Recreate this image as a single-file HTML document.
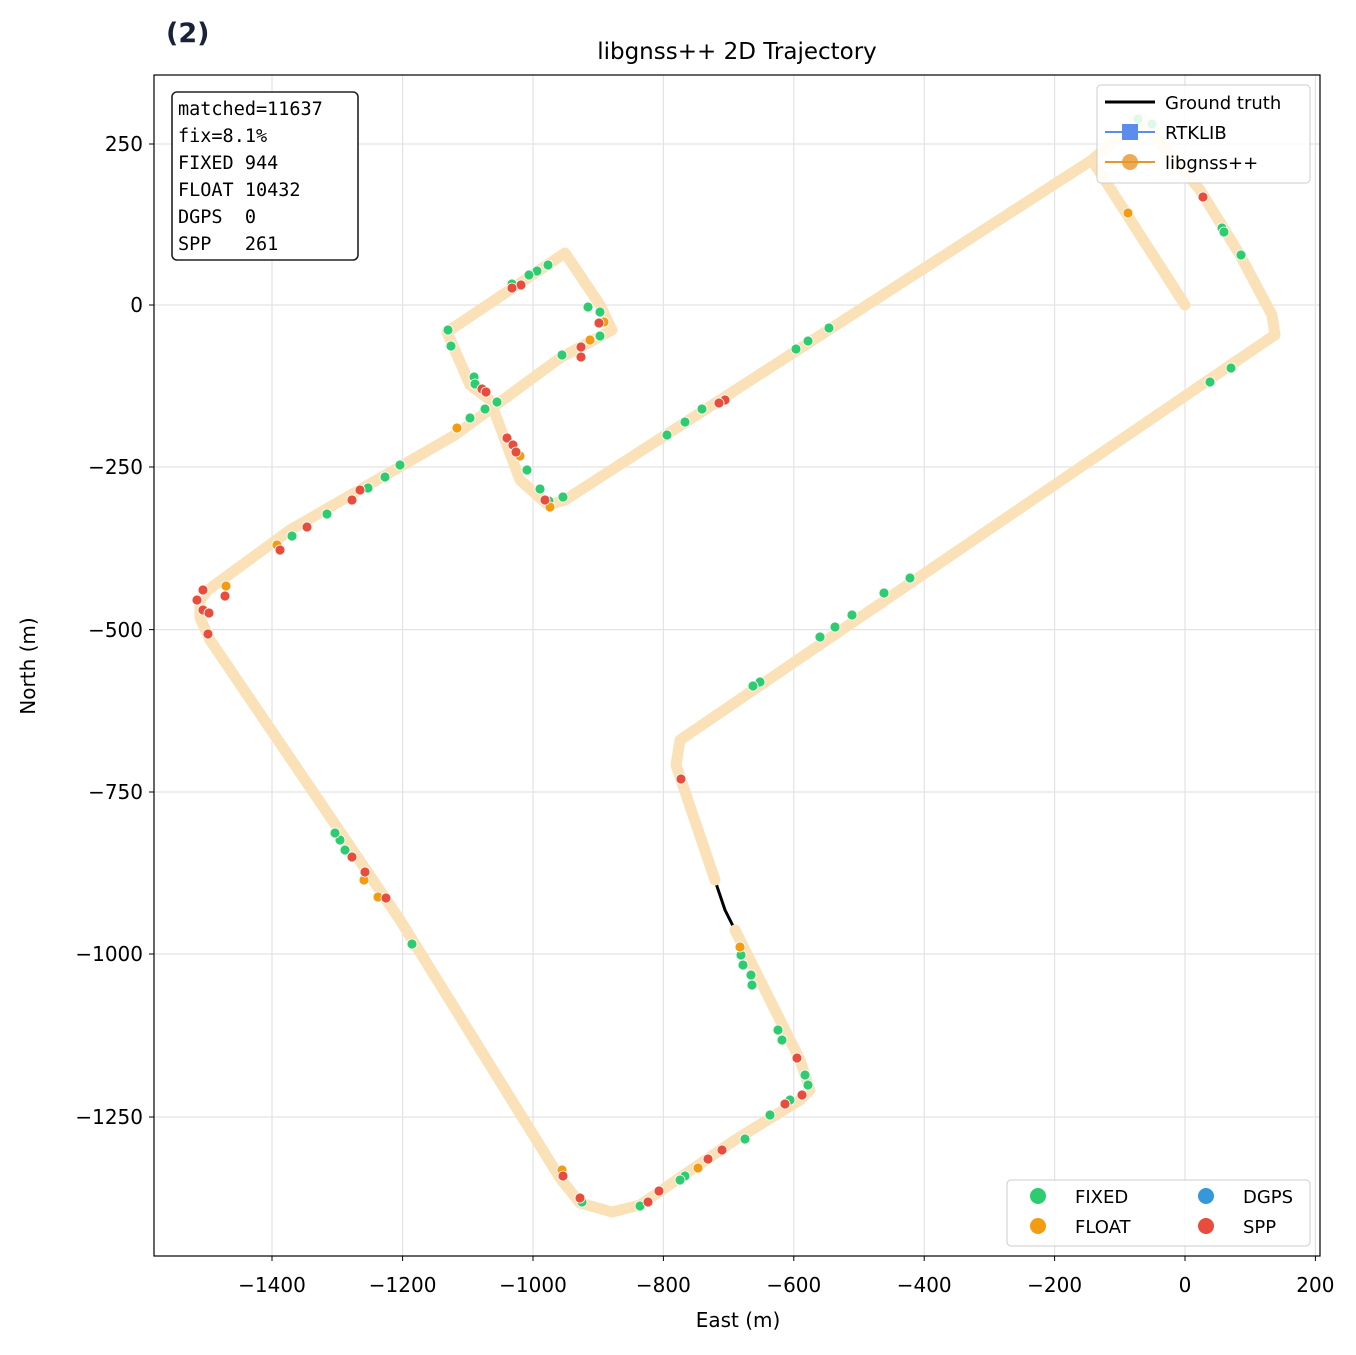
<!DOCTYPE html>
<html><head><meta charset="utf-8"><style>
body{margin:0;background:#fff}
</style></head><body>
<svg width="1356" height="1350" xmlns="http://www.w3.org/2000/svg" font-family="'DejaVu Sans','Liberation Sans',sans-serif">
<rect width="1356" height="1350" fill="#fff"/>
<g stroke="#e3e3e3" stroke-width="1.2">
<line x1="272" y1="75" x2="272" y2="1256"/><line x1="402.6" y1="75" x2="402.6" y2="1256"/><line x1="533" y1="75" x2="533" y2="1256"/><line x1="663.4" y1="75" x2="663.4" y2="1256"/><line x1="793.8" y1="75" x2="793.8" y2="1256"/><line x1="924.2" y1="75" x2="924.2" y2="1256"/><line x1="1054.6" y1="75" x2="1054.6" y2="1256"/><line x1="1185" y1="75" x2="1185" y2="1256"/><line x1="1315.4" y1="75" x2="1315.4" y2="1256"/>
<line x1="154" y1="144" x2="1320" y2="144"/><line x1="154" y1="305" x2="1320" y2="305"/><line x1="154" y1="467" x2="1320" y2="467"/><line x1="154" y1="629.6" x2="1320" y2="629.6"/><line x1="154" y1="792" x2="1320" y2="792"/><line x1="154" y1="954" x2="1320" y2="954"/><line x1="154" y1="1117" x2="1320" y2="1117"/>
</g>
<g fill="none" stroke-linejoin="round" stroke-linecap="round">
<polyline stroke="#000" stroke-width="3" points="1185,305 1092,160 1140,118 1200,190 1240,255 1272,315 1275,335 1260,345 680,740 676,765 725,910 800,1060 810,1090 800,1100 735,1140 640,1205 612,1212 580,1203 560,1178 400,920 210,640 200,618 200,600 208,590 290,530 455,435 560,358 612,330 600,305 565,253 447,332 470,385 490,400 520,480 548,505 565,500 1092,160"/>
<polyline stroke="#fbe1b8" stroke-width="11" points="1185,305 1092,160 1140,118 1200,190 1240,255 1272,315 1275,335 1260,345 680,740 676,765 715,880"/>
<polyline stroke="#fbe1b8" stroke-width="11" points="735,930 800,1060 810,1090 800,1100 735,1140 640,1205 612,1212 580,1203 560,1178 400,920 210,640 200,618 200,600 208,590 290,530 455,435 560,358 612,330 600,305 565,253 447,332 470,385 490,400 520,480 548,505 565,500 1092,160"/>
</g>
<g stroke="#fff" stroke-width="0.8">
<g fill="#2ecc71">
<circle cx="1138" cy="119" r="5"/><circle cx="1152" cy="124" r="5"/><circle cx="1222" cy="228" r="5"/><circle cx="1224" cy="232" r="5"/><circle cx="1241" cy="255" r="5"/><circle cx="1231" cy="368" r="5"/><circle cx="1210" cy="382" r="5"/><circle cx="910" cy="578" r="5"/><circle cx="884" cy="593" r="5"/><circle cx="852" cy="615" r="5"/><circle cx="835" cy="627" r="5"/><circle cx="820" cy="637" r="5"/><circle cx="760" cy="682" r="5"/><circle cx="753" cy="686" r="5"/><circle cx="741" cy="955" r="5"/><circle cx="743" cy="965" r="5"/><circle cx="751" cy="975" r="5"/><circle cx="752" cy="985" r="5"/><circle cx="778" cy="1030" r="5"/><circle cx="782" cy="1040" r="5"/><circle cx="805" cy="1075" r="5"/><circle cx="808" cy="1085" r="5"/><circle cx="790" cy="1100" r="5"/><circle cx="770" cy="1115" r="5"/><circle cx="745" cy="1139" r="5"/><circle cx="685" cy="1176" r="5"/><circle cx="680" cy="1180" r="5"/><circle cx="640" cy="1206" r="5"/><circle cx="582" cy="1202" r="5"/><circle cx="412" cy="944" r="5"/><circle cx="345" cy="850" r="5"/><circle cx="340" cy="840" r="5"/><circle cx="335" cy="833" r="5"/><circle cx="292" cy="536" r="5"/><circle cx="327" cy="514" r="5"/><circle cx="368" cy="488" r="5"/><circle cx="385" cy="477" r="5"/><circle cx="400" cy="465" r="5"/><circle cx="470" cy="418" r="5"/><circle cx="485" cy="409" r="5"/><circle cx="497" cy="402" r="5"/><circle cx="448" cy="330" r="5"/><circle cx="451" cy="346" r="5"/><circle cx="474" cy="377" r="5"/><circle cx="475" cy="384" r="5"/><circle cx="527" cy="470" r="5"/><circle cx="540" cy="489" r="5"/><circle cx="549" cy="501" r="5"/><circle cx="563" cy="497" r="5"/><circle cx="562" cy="355" r="5"/><circle cx="600" cy="336" r="5"/><circle cx="600" cy="312" r="5"/><circle cx="588" cy="307" r="5"/><circle cx="512" cy="284" r="5"/><circle cx="537" cy="271" r="5"/><circle cx="548" cy="265" r="5"/><circle cx="529" cy="275" r="5"/><circle cx="667" cy="435" r="5"/><circle cx="685" cy="422" r="5"/><circle cx="702" cy="409" r="5"/><circle cx="796" cy="349" r="5"/><circle cx="808" cy="341" r="5"/><circle cx="829" cy="328" r="5"/>
</g>
<g fill="#f39c12">
<circle cx="1128" cy="213" r="5"/><circle cx="590" cy="340" r="5"/><circle cx="604" cy="322" r="5"/><circle cx="457" cy="428" r="5"/><circle cx="520" cy="456" r="5"/><circle cx="550" cy="507" r="5"/><circle cx="277" cy="545" r="5"/><circle cx="226" cy="586" r="5"/><circle cx="364" cy="880" r="5"/><circle cx="378" cy="897" r="5"/><circle cx="740" cy="947" r="5"/><circle cx="562" cy="1170" r="5"/><circle cx="698" cy="1168" r="5"/>
</g>
<g fill="#e74c3c">
<circle cx="1203" cy="197" r="5"/><circle cx="599" cy="323" r="5"/><circle cx="581" cy="357" r="5"/><circle cx="581" cy="347" r="5"/><circle cx="521" cy="285" r="5"/><circle cx="512" cy="288" r="5"/><circle cx="482" cy="389" r="5"/><circle cx="486" cy="392" r="5"/><circle cx="507" cy="438" r="5"/><circle cx="513" cy="445" r="5"/><circle cx="516" cy="452" r="5"/><circle cx="545" cy="500" r="5"/><circle cx="725" cy="400" r="5"/><circle cx="719" cy="403" r="5"/><circle cx="360" cy="490" r="5"/><circle cx="352" cy="500" r="5"/><circle cx="307" cy="527" r="5"/><circle cx="280" cy="550" r="5"/><circle cx="197" cy="600" r="5"/><circle cx="203" cy="590" r="5"/><circle cx="203" cy="610" r="5"/><circle cx="209" cy="613" r="5"/><circle cx="208" cy="634" r="5"/><circle cx="225" cy="596" r="5"/><circle cx="352" cy="857" r="5"/><circle cx="365" cy="872" r="5"/><circle cx="386" cy="898" r="5"/><circle cx="681" cy="779" r="5"/><circle cx="797" cy="1058" r="5"/><circle cx="802" cy="1095" r="5"/><circle cx="708" cy="1159" r="5"/><circle cx="659" cy="1191" r="5"/><circle cx="648" cy="1202" r="5"/><circle cx="580" cy="1198" r="5"/><circle cx="563" cy="1176" r="5"/><circle cx="785" cy="1104" r="5"/><circle cx="722" cy="1150" r="5"/>
</g>
</g>
<rect x="154" y="75" width="1166" height="1181" fill="none" stroke="#000" stroke-width="1.2"/>
<g stroke="#000" stroke-width="1">
<line x1="272" y1="1256" x2="272" y2="1261"/><line x1="402.6" y1="1256" x2="402.6" y2="1261"/><line x1="533" y1="1256" x2="533" y2="1261"/><line x1="663.4" y1="1256" x2="663.4" y2="1261"/><line x1="793.8" y1="1256" x2="793.8" y2="1261"/><line x1="924.2" y1="1256" x2="924.2" y2="1261"/><line x1="1054.6" y1="1256" x2="1054.6" y2="1261"/><line x1="1185" y1="1256" x2="1185" y2="1261"/><line x1="1315.4" y1="1256" x2="1315.4" y2="1261"/>
<line x1="149" y1="144" x2="154" y2="144"/><line x1="149" y1="305" x2="154" y2="305"/><line x1="149" y1="467" x2="154" y2="467"/><line x1="149" y1="629.6" x2="154" y2="629.6"/><line x1="149" y1="792" x2="154" y2="792"/><line x1="149" y1="954" x2="154" y2="954"/><line x1="149" y1="1117" x2="154" y2="1117"/>
</g>
<g font-size="20" fill="#000" text-anchor="middle">
<text x="272" y="1292">−1400</text><text x="402.6" y="1292">−1200</text><text x="533" y="1292">−1000</text><text x="663.4" y="1292">−800</text><text x="793.8" y="1292">−600</text><text x="924.2" y="1292">−400</text><text x="1054.6" y="1292">−200</text><text x="1185" y="1292">0</text><text x="1315.4" y="1292">200</text>
<text x="738" y="1327">East (m)</text>
<text x="737" y="59" font-size="23">libgnss++ 2D Trajectory</text>
<text transform="translate(35,666) rotate(-90)">North (m)</text>
</g>
<g font-size="20" fill="#000" text-anchor="end">
<text x="143" y="151">250</text><text x="143" y="312">0</text><text x="143" y="474">−250</text><text x="143" y="637">−500</text><text x="143" y="799">−750</text><text x="143" y="961">−1000</text><text x="143" y="1124">−1250</text>
</g>
<text x="166" y="42" font-size="27" font-weight="bold" fill="#1a2238">(2)</text>
<rect x="172" y="92" width="186" height="168" rx="5" fill="#fff" stroke="#222" stroke-width="1.6"/>
<g font-family="'DejaVu Sans Mono','Liberation Mono',monospace" font-size="18.5" fill="#000">
<text x="178" y="115">matched=11637</text><text x="178" y="142">fix=8.1%</text><text x="178" y="169">FIXED 944</text><text x="178" y="196">FLOAT 10432</text><text x="178" y="223" xml:space="preserve">DGPS  0</text><text x="178" y="250" xml:space="preserve">SPP   261</text>
</g>
<rect x="1097" y="85" width="213" height="98" rx="4" fill="#fff" fill-opacity="0.85" stroke="#ccc"/>
<line x1="1105" y1="102" x2="1155" y2="102" stroke="#000" stroke-width="3"/>
<line x1="1105" y1="132" x2="1155" y2="132" stroke="#5b8def" stroke-width="2"/><rect x="1122" y="124" width="16" height="16" fill="#5b8def"/>
<line x1="1105" y1="162" x2="1155" y2="162" stroke="#e8962a" stroke-width="2"/><circle cx="1130" cy="162" r="8" fill="#e8962a" opacity="0.8"/>
<g font-size="18" fill="#000"><text x="1165" y="109">Ground truth</text><text x="1165" y="139">RTKLIB</text><text x="1165" y="169">libgnss++</text></g>
<rect x="1007" y="1180" width="303" height="66" rx="4" fill="#fff" fill-opacity="0.85" stroke="#ccc"/>
<circle cx="1038" cy="1196" r="8" fill="#2ecc71"/><circle cx="1038" cy="1226" r="8" fill="#f39c12"/><circle cx="1206" cy="1196" r="8" fill="#3498db"/><circle cx="1206" cy="1226" r="8" fill="#e74c3c"/>
<g font-size="18" fill="#000"><text x="1075" y="1203">FIXED</text><text x="1075" y="1233">FLOAT</text><text x="1243" y="1203">DGPS</text><text x="1243" y="1233">SPP</text></g>
</svg>
</body></html>
